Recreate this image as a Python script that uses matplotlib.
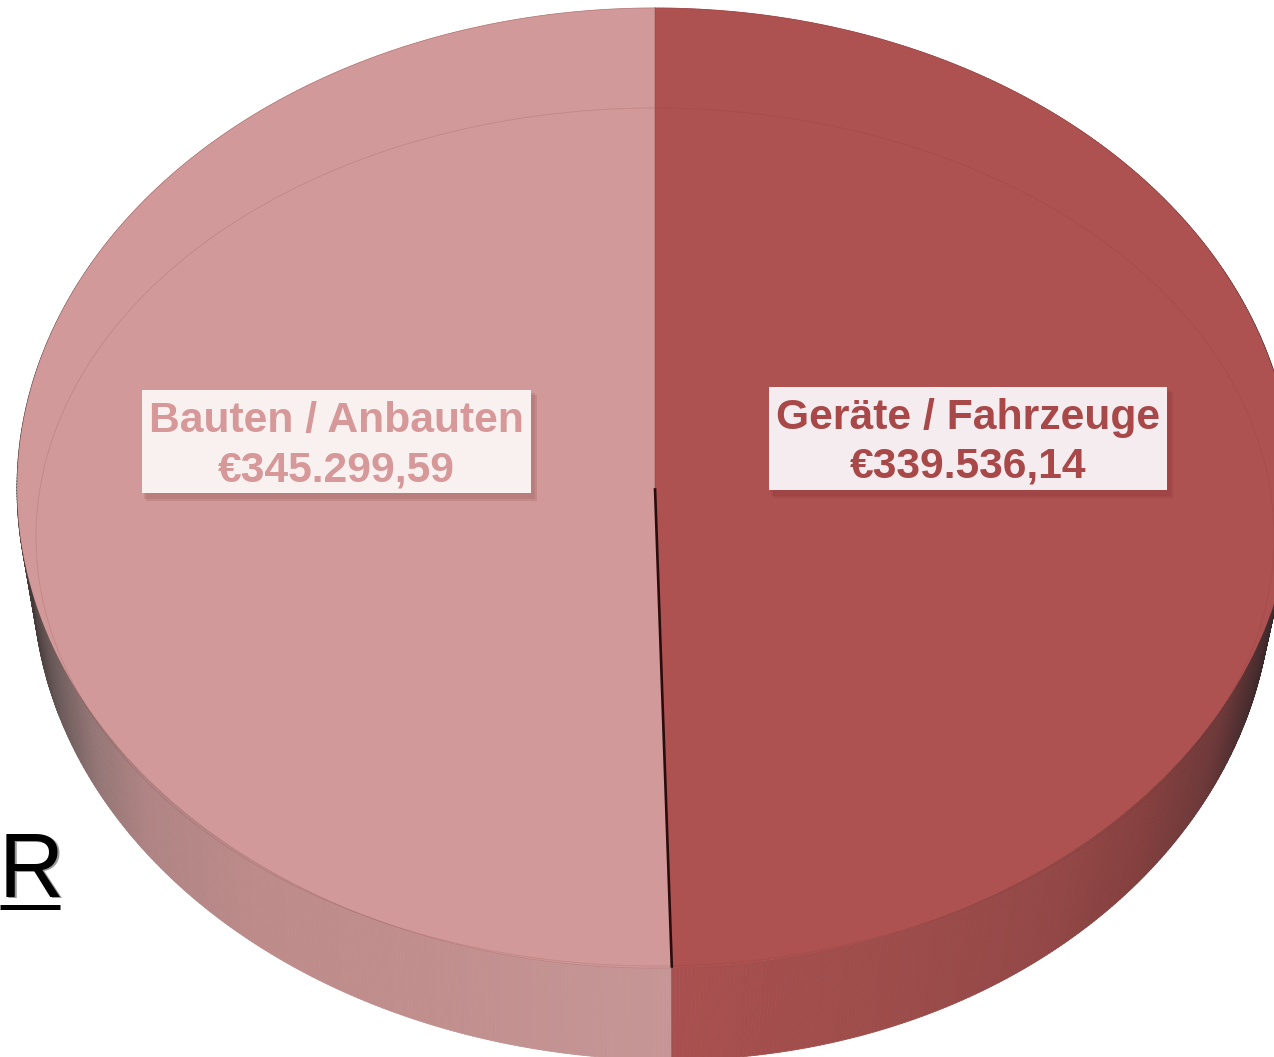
import numpy as np
import matplotlib
matplotlib.use('Agg')
import matplotlib.pyplot as plt
from matplotlib.patches import Rectangle, Ellipse
from matplotlib.collections import PolyCollection
from matplotlib.colors import to_rgb
from matplotlib.transforms import Affine2D

# Datos
categorias = ['Geräte / Fahrzeuge', 'Bauten / Anbauten']
valores = [339536.14, 345299.59]
etiquetas_valor = ['€339.536,14', '€345.299,59']
colores = ['#ae5251', '#d19999']
colores_texto = ['#a84848', '#d69898']
colores_caja = ['#f4ecee', '#f9f0f0']

# geometria en pixeles: cara superior y borde inferior del cilindro
cx, cy, a, b = 655, 488, 638, 480
cx2, cy2, a2_izq, a2_der, b2 = 672, 580, 639, 600, 480

fig = plt.figure(figsize=(12.74, 10.57), dpi=100)
ax = fig.add_axes([0, 0, 1, 1])

# Cara superior del pie
wedges, _ = ax.pie(valores, colors=colores, startangle=90, counterclock=False)
to_px = Affine2D().scale(a, -b).translate(cx, cy) + ax.transData
for w in wedges:
    w.set_transform(to_px)
    w.set_zorder(3)
ax.set_aspect('auto')
ax.set_xlim(0, 1274)
ax.set_ylim(1057, 0)
ax.axis('off')

# Angulo de la division, sale de los valores
corte = 2 * np.pi * valores[0] / sum(valores)
giro = corte - np.pi  # el borde inferior tiene la division justo en cx2


def sombra(x, xs, cs):
    rgb = np.array([to_rgb(c) for c in cs])
    return np.column_stack([np.interp(x, xs, rgb[:, i]) for i in range(3)])


# Pared lateral con degradado
x_der = [672, 900, 1050, 1130, 1200, 1245, 1274]
c_der = ['#a8504f', '#9c4c4a', '#924746', '#843f3e', '#6c3839', '#452c2e', '#2e2224']
x_izq = [30, 60, 100, 150, 260, 420, 672]
c_izq = ['#3e3434', '#6b5a5a', '#957676', '#b08484', '#bd8b8a', '#c08e8d', '#c69696']

for t0, t1, xs, cs, lado in [(0, corte, x_der, c_der, a2_der),
                             (corte, 2 * np.pi, x_izq, c_izq, a2_izq)]:
    t = np.linspace(t0, t1, 500)
    x1 = cx + a * np.sin(t)
    y1 = cy - b * np.cos(t)
    x2 = cx2 + lado * np.sin(t - giro)
    y2 = cy2 - b2 * np.cos(t - giro)
    polys = [[(x1[i], y1[i]), (x1[i + 1], y1[i + 1]), (x2[i + 1], y2[i + 1]), (x2[i], y2[i])]
             for i in range(len(t) - 1)]
    col = sombra((x2[:-1] + x2[1:]) / 2, xs, cs)
    ax.add_collection(PolyCollection(polys, facecolors=col, edgecolors=col, linewidths=0.6, zorder=2))

# Linea interior del bisel
ax.add_patch(Ellipse((cx, 537), 2 * 619, 2 * 429, fill=False, ec='#7a2a2a', lw=0.6, alpha=0.16, zorder=4))
ax.plot(cx + a * np.sin(np.linspace(corte, 2 * np.pi + corte, 400)),
        cy - b * np.cos(np.linspace(corte, 2 * np.pi + corte, 400)),
        color='#8a3a3a', lw=0.5, alpha=0.25, zorder=4)

# Division oscura entre las dos partes
xr = cx + a * np.sin(corte)
yr = cy - b * np.cos(corte)
ax.plot([cx + (xr - cx) * 0.0, xr], [cy, yr], color='#2a0c0c', lw=1.9, zorder=5, solid_capstyle='butt')
ax.plot([xr, cx2], [yr, cy2 + b2], color='#8a3a3a', lw=1.0, alpha=0.7, zorder=5, solid_capstyle='butt')
ax.plot([cx, cx], [cy - b, cy], color='#8a4a4a', lw=1.2, alpha=0.3, zorder=5)

# Cajas de etiqueta
cajas = [(769, 387, 398, 103, 968), (142, 390, 389, 103, 336)]
for i, (x0, y0, w, h, xc) in enumerate(cajas):
    ax.add_patch(Rectangle((x0 + 2, y0 + 3), w + 2, h + 3, fc='#6e2020', alpha=0.12, lw=0, zorder=6))
    ax.add_patch(Rectangle((x0 + 4, y0 + 5), w + 2, h + 3, fc='#6e2020', alpha=0.12, lw=0, zorder=6))
    ax.add_patch(Rectangle((x0, y0), w, h, fc=colores_caja[i], lw=0, zorder=7))
    ax.text(xc, y0 + 31, categorias[i], color=colores_texto[i], fontsize=30.7, fontweight='bold',
            family='Liberation Sans', ha='center', va='center', zorder=8)
    ax.text(xc, y0 + 80, etiquetas_valor[i], color=colores_texto[i], fontsize=30.7, fontweight='bold',
            family='Liberation Sans', ha='center', va='center', zorder=8)

# Resto de texto cortado a la izquierda
ax.text(0.5, 898.5, 'R', color='#999999', fontsize=65, family='Liberation Sans', ha='left', va='baseline', zorder=1)
ax.text(-1, 897, 'R', color='black', fontsize=65, family='Liberation Sans', ha='left', va='baseline', zorder=1)
ax.plot([0, 60], [906.5, 906.5], color='black', lw=3.6, solid_capstyle='butt', zorder=1)

fig.savefig('out.png', dpi=100)
